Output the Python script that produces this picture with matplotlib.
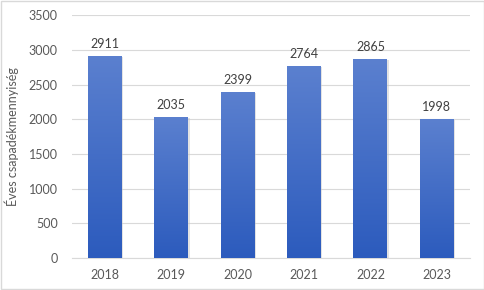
import numpy as np
import matplotlib
matplotlib.use("Agg")
import matplotlib.pyplot as plt
from matplotlib.colors import LinearSegmentedColormap
from matplotlib.patches import Rectangle

plt.rcParams['font.family'] = ['Lato', 'DejaVu Sans']

years = ["2018", "2019", "2020", "2021", "2022", "2023"]
values = [2911, 2035, 2399, 2764, 2865, 1998]
yticks = [0, 500, 1000, 1500, 2000, 2500, 3000, 3500]
ylabel = "Éves csapadékmennyiség"

text_col = "#595959"
grad = LinearSegmentedColormap.from_list("bar", ["#2c5bbd", "#5b80cf"])

fig = plt.figure(figsize=(4.85, 2.9), dpi=100)
ax = fig.add_axes([0.148, 0.110, 0.821, 0.838])

x = np.arange(len(years))
width = 0.51
bars = ax.bar(x, values, width=width, color="none", zorder=3)
g = np.linspace(0, 1, 256).reshape(-1, 1)
for b in bars:
    x0, w, h = b.get_x(), b.get_width(), b.get_height()
    # soft shadow
    ax.add_patch(Rectangle((x0 + 0.02, 0), w, h - 15, color="#c8c8c8", alpha=0.5,
                           zorder=2, lw=0))
    im = ax.imshow(g, cmap=grad, aspect="auto", origin="lower",
                   extent=[x0, x0 + w, 0, h], zorder=3)
    im.set_clip_path(b)
    ax.text(x0 + w / 2, h + 85, str(int(h)), ha="center", va="bottom",
            fontsize=9, color="#404040")

ax.set_xlim(-0.5, len(years) - 0.5)
ax.set_ylim(0, 3500)
ax.set_yticks(yticks)
ax.set_xticks(x)
ax.set_xticklabels(years)
ax.tick_params(axis="both", length=0, labelsize=9, colors=text_col)
ax.tick_params(axis="x", pad=8)
ax.tick_params(axis="y", pad=10)
ax.grid(axis="y", color="#d9d9d9", lw=0.8, zorder=0)
ax.set_axisbelow(True)
for s in ["top", "right", "left"]:
    ax.spines[s].set_visible(False)
ax.spines["bottom"].set_color("#d9d9d9")
ax.set_ylabel(ylabel, fontsize=9, color=text_col, labelpad=7)

fig.patches.append(Rectangle((0.002, 0.003), 0.995, 0.994, transform=fig.transFigure,
                             fill=False, edgecolor="#d9d9d9", lw=1))

fig.savefig("out.png", dpi=100)
